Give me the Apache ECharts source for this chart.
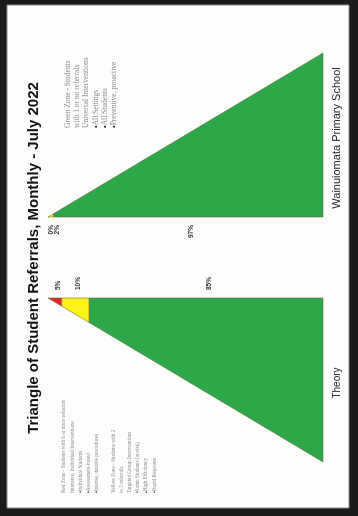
<!DOCTYPE html>
<html><head><meta charset="utf-8">
<script src="https://cdn.jsdelivr.net/npm/echarts@6/dist/echarts.min.js"></script>
<style>
html,body{margin:0;padding:0;width:358px;height:516px;overflow:hidden;background:#1b1b1b;}
#chart{position:absolute;left:0;top:0;width:516px;height:358px;transform-origin:0 0;transform:translateY(516px) rotate(-90deg);}
</style></head><body><div id="chart"></div>
<script>
// ---- data ----
const chartTitle = 'Triangle of Student Referrals, Monthly - July 2022';
const zones = ['Red', 'Yellow', 'Green'];
const theoryPct = [5, 10, 85];
const schoolPct = [0, 2, 97];
const triangleNames = ['Theory', 'Wainuiomata Primary School'];
const redYellowNotes = [
  'Red Zone - Students with 6 or more referrals',
  'Intensive, Individual Interventions',
  '•Individual Students',
  '•Assessment-based',
  '•Intense, durable procedures',
  '',
  'Yellow Zone - Students with 2',
  'to 5 referrals',
  'Targeted Group Interventions',
  '•Some Students (at-risk)',
  '•High Efficiency',
  '•Rapid Response'
];
const greenNotes = [
  'Green Zone - Students',
  'with 1 or no referrals',
  'Universal Interventions',
  '•All Settings',
  '•All Students',
  '•Preventive, proactive'
];

// ---- styles ----
const zoneColors = ['#e3262b', '#fff21c', '#2ca74a'];

function noteText(lines) {
  return lines.map(l => l.startsWith('•') ? '{b|•}' + l.slice(1) : l).join('\n');
}

function makeSeries(pcts, gi, side) {
  const total = pcts.reduce((a, b) => a + b, 0);
  let c = 0;
  const data = [];
  pcts.forEach((p, i) => { data.push([c / total, (c + p) / total, i, p]); c += p; });
  return {
    type: 'custom', xAxisIndex: gi, yAxisIndex: gi, data: data,
    encode: { x: [0, 1], y: [0, 1] },
    renderItem: function (params, api) {
      const idx = params.dataIndex;
      // label positions with minimal spacing
      let prev = -1e9, ly = 0;
      for (let j = 0; j <= idx; j++) {
        const d = data[j];
        let y = api.coord([0, (d[0] + d[1]) / 2])[1] + 3;
        if (y < prev + 6.5) y = prev + 6.5;
        prev = y;
        if (j === idx) ly = y;
      }
      const a = api.value(0), b = api.value(1), i = api.value(2);
      const pts = side === 'right'
        ? [[1, a], [1 - a, a], [1 - b, b], [1, b]]
        : [[0, a], [a, a], [b, b], [0, b]];
      const px = pts.map(p => api.coord(p));
      const edgeX = api.coord([side === 'right' ? 1 : 0, 0])[0];
      const children = [];
      if (b > a) {
        children.push({
          type: 'polygon', shape: { points: px },
          style: { fill: zoneColors[i], stroke: 'rgba(105,95,55,0.75)', lineWidth: 0.7 }
        });
      }
      children.push({
        type: 'text',
        style: {
          text: api.value(3) + '%',
          x: side === 'right' ? edgeX + 8 : edgeX - 8,
          y: ly,
          align: side === 'right' ? 'left' : 'right',
          verticalAlign: 'middle',
          font: 'bold 6.5px "Liberation Sans", Arial, sans-serif',
          fill: '#333'
        }
      });
      return { type: 'group', children: children };
    }
  };
}

const chart = echarts.init(document.getElementById('chart'), null, { renderer: 'canvas' });
const axisHidden = { type: 'value', min: 0, max: 1, show: false };
chart.setOption({
  animation: false,
  backgroundColor: 'transparent',
  title: {
    text: chartTitle, left: 'center', top: 21,
    textStyle: { fontSize: 15, fontWeight: 'bold', fontFamily: '"Liberation Sans", Arial, sans-serif', color: '#141414' }
  },
  grid: [
    { left: 54, top: 48, width: 164, height: 275 },
    { left: 299, top: 48, width: 164, height: 275 }
  ],
  xAxis: [Object.assign({ gridIndex: 0 }, axisHidden), Object.assign({ gridIndex: 1 }, axisHidden)],
  yAxis: [Object.assign({ gridIndex: 0, inverse: true }, axisHidden), Object.assign({ gridIndex: 1, inverse: true }, axisHidden)],
  graphic: [
    { type: 'rect', z: -10, shape: { x: 8, y: 7, width: 503, height: 342 },
      style: { fill: '#fdfdfb', stroke: '#8a8a8a', lineWidth: 1 } },
    { type: 'text', z: 5, style: {
        text: triangleNames[0], x: 133, y: 337, align: 'center', verticalAlign: 'middle',
        font: '10px "Liberation Sans", Arial, sans-serif', fill: '#222' } },
    { type: 'text', z: 5, style: {
        text: triangleNames[1], x: 378, y: 337, align: 'center', verticalAlign: 'middle',
        font: '11px "Liberation Sans", Arial, sans-serif', fill: '#222' } },
    { type: 'text', z: 5, style: {
        text: noteText(redYellowNotes), x: 23, y: 60, align: 'left', verticalAlign: 'top',
        fontSize: 5.2, lineHeight: 8.2, fontFamily: '"Liberation Serif", "Times New Roman", serif', fill: '#8a8a8a',
        rich: { b: { fill: '#222', fontSize: 5.2, lineHeight: 8.2 } } } },
    { type: 'text', z: 5, style: {
        text: noteText(greenNotes), x: 388, y: 63.4, align: 'left', verticalAlign: 'top',
        fontSize: 7.5, lineHeight: 9.2, fontFamily: '"Liberation Serif", "Times New Roman", serif', fill: '#8a8a8a',
        rich: { b: { fill: '#222', fontSize: 7.5, lineHeight: 9.2 } } } }
  ],
  series: [makeSeries(theoryPct, 0, 'right'), makeSeries(schoolPct, 1, 'left')]
});
</script></body></html>
